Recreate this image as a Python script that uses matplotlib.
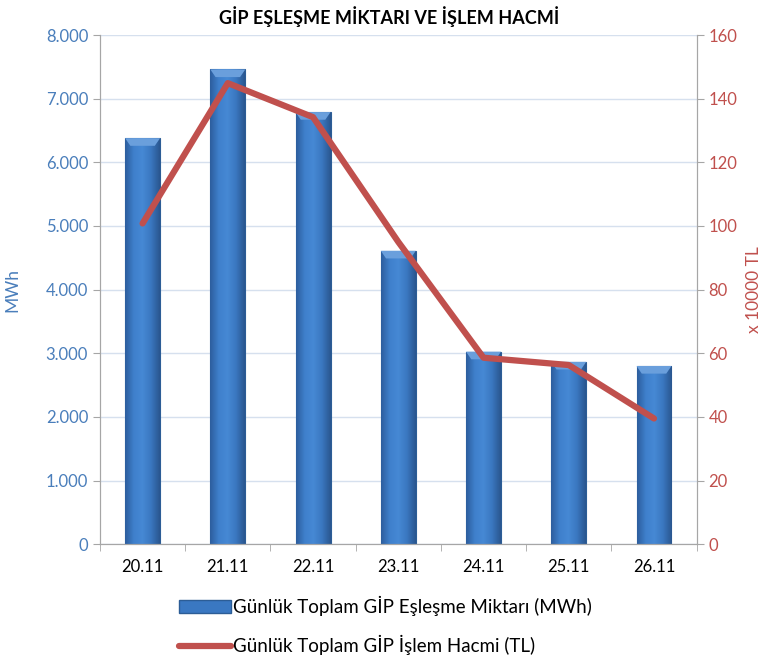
import numpy as np
import matplotlib
matplotlib.use('Agg')
import matplotlib.pyplot as plt
from matplotlib.ticker import FuncFormatter, MultipleLocator
from matplotlib.lines import Line2D
from matplotlib.patches import Patch
from matplotlib.colors import LinearSegmentedColormap

plt.rcParams['font.family'] = ['Lato', 'DejaVu Sans']

# Veriler
gunler = ['20.11', '21.11', '22.11', '23.11', '24.11', '25.11', '26.11']
eslesme_mwh = [6380, 7460, 6790, 4610, 3025, 2865, 2800]
islem_hacmi = [100.8, 144.9, 134.2, 95.0, 58.6, 56.3, 39.5]

mavi = '#4A7EBB'
kirmizi = '#C0504D'
gri = '#A6A6A6'

fig = plt.figure(figsize=(7.63, 6.62), dpi=100)
ax = fig.add_axes([0.131, 0.178, 0.782, 0.769])
ax2 = ax.twinx()

x = np.arange(len(gunler))
bars = ax.bar(x, eslesme_mwh, width=0.41, color='#3A78C2', edgecolor='#2C5D96',
              linewidth=0.8, zorder=2)

# Çubuklara yatay gradyan
cmap = LinearSegmentedColormap.from_list('bar', ['#2D5E9E', '#3F80CC', '#4689D4', '#3A77C0', '#2A5790'])
grad = np.linspace(0, 1, 64).reshape(1, -1)
for b in bars:
    bx, by = b.get_x(), b.get_y()
    w, h = b.get_width(), b.get_height()
    im = ax.imshow(grad, cmap=cmap, aspect='auto', extent=(bx, bx + w, by, by + h), zorder=2.5)
    im.set_clip_path(b)
    # üst kapak
    cap = 120
    ax.fill([bx, bx + w, bx + w * 0.85, bx + w * 0.15], [h, h, h - cap, h - cap],
            color='#6A9FDC', zorder=3, lw=0)

ax.set_xlim(-0.5, len(gunler) - 0.5)
ax.set_ylim(0, 8000)
ax.yaxis.set_major_locator(MultipleLocator(1000))
ax.yaxis.set_major_formatter(FuncFormatter(lambda v, p: f'{int(v):,}'.replace(',', '.')))
ax.grid(axis='y', color='#D6E0EE', linewidth=1.0, zorder=0)
ax.set_axisbelow(True)

ax.set_xticks(x)
ax.set_xticklabels(gunler, fontsize=12)
ax.set_xticks(np.arange(-0.5, len(gunler), 1), minor=True)
ax.tick_params(axis='x', which='major', length=0, pad=11)
ax.tick_params(axis='x', which='minor', length=5, color=gri)
ax.tick_params(axis='y', colors=mavi, labelsize=12, length=5)
ax.set_ylabel('MWh', fontsize=12.5, color=mavi, labelpad=18)

ax2.plot(x, islem_hacmi, color=kirmizi, linewidth=4.5, solid_capstyle='round',
         solid_joinstyle='round', zorder=4)
ax2.set_ylim(0, 160)
ax2.yaxis.set_major_locator(MultipleLocator(20))
ax2.tick_params(axis='y', colors=kirmizi, labelsize=12, length=5)
ax2.set_ylabel('x 10000 TL', fontsize=12.5, color=kirmizi, labelpad=6)

for a in (ax, ax2):
    a.spines['top'].set_visible(False)
    for s in ('left', 'right', 'bottom'):
        a.spines[s].set_color(gri)
ax.tick_params(axis='y', color=gri)
ax2.tick_params(axis='y', color=gri)

fig.text(0.51, 0.975, 'GİP EŞLEŞME MİKTARI VE İŞLEM HACMİ', ha='center', va='center',
         fontsize=13, fontweight='bold')

handles = [Patch(facecolor='#3A78C2', edgecolor='#2C5D96'),
           Line2D([0], [0], color=kirmizi, linewidth=4.5, solid_capstyle='round')]
labels = ['Günlük Toplam GİP Eşleşme Miktarı (MWh)', 'Günlük Toplam GİP İşlem Hacmi (TL)']
fig.legend(handles, labels, loc='center', bbox_to_anchor=(0.505, 0.055), ncol=1,
           frameon=False, fontsize=13.5, handlelength=2.8, handletextpad=0.1,
           labelspacing=1.0)

fig.savefig('out.png', dpi=100)
